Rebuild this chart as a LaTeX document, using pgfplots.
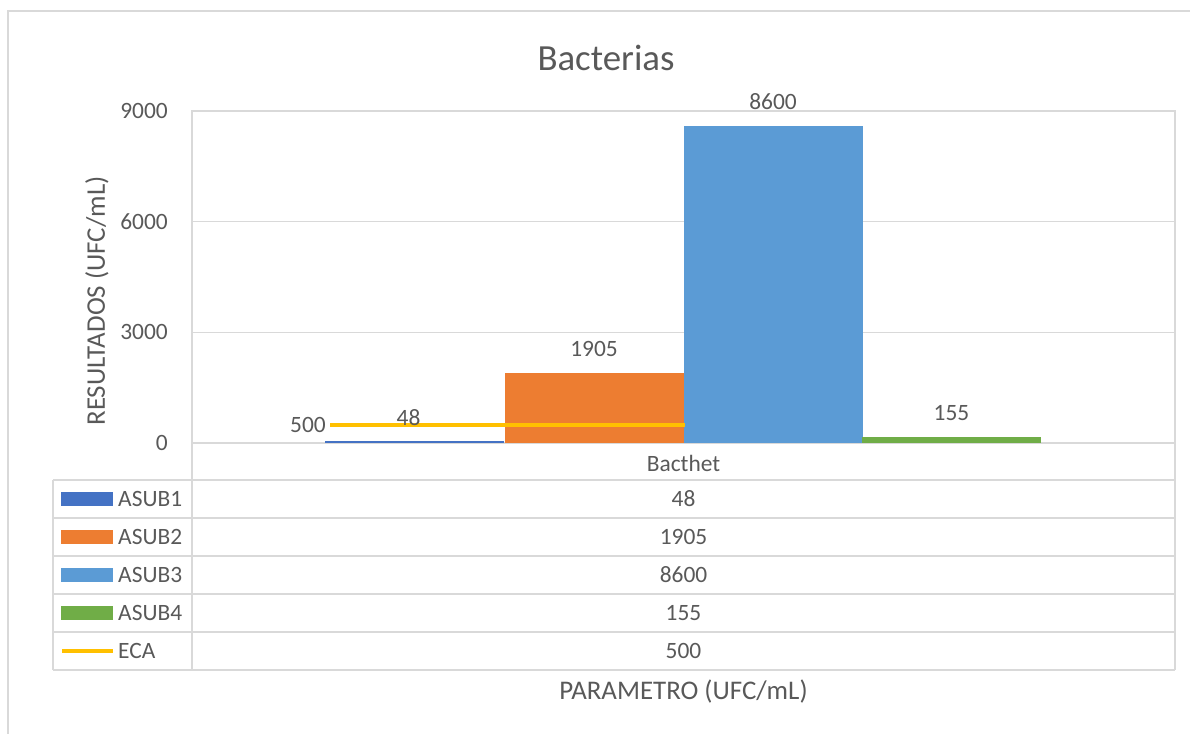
\documentclass[border=0pt]{standalone}
\usepackage{fontspec}
\setmainfont{Carlito}
\usepackage{pgfplots}
\pgfplotsset{compat=1.18}
\definecolor{cA}{HTML}{4472C4}
\definecolor{cB}{HTML}{ED7D31}
\definecolor{cC}{HTML}{5B9BD5}
\definecolor{cD}{HTML}{70AD47}
\definecolor{cECA}{HTML}{FFC000}
\definecolor{txt}{HTML}{595959}
\definecolor{gridg}{HTML}{D9D9D9}
\newcommand{\lab}{\fontsize{23.5}{28}\selectfont}
\newcommand{\axlab}{\fontsize{27}{32}\selectfont}

\begin{document}
\begin{tikzpicture}[x=1bp,y=1bp]
\useasboundingbox (0,0) rectangle (1190,734);
% outer chart border (only top and left visible)
\draw[gridg,line width=1.5bp] (8,0) -- (8,723) -- (1190,723);
\node[text=txt,font=\fontsize{37}{44}\selectfont] at (606,676) {Bacterias};

\begin{axis}[
  at={(192bp,291bp)},anchor=south west,
  scale only axis,width=983bp,height=332bp,
  xmin=192,xmax=1175,ymin=0,ymax=9000,
  ytick={0,3000,6000,9000},
  xtick={683.5},xticklabels={Bacthet},
  ymajorgrids,grid style={gridg,line width=1.3bp},
  axis line style={gridg,line width=1.3bp},
  major tick length=0pt,
  tick label style={text=txt,font=\lab},
  /pgf/number format/assume math mode=true,
  /pgf/number format/1000 sep={},
  yticklabel style={inner sep=0pt,xshift=-24bp},
  xticklabel style={anchor=center,inner sep=0pt,yshift=-20bp},
  clip=false]
\addplot[ybar,bar width=179bp,bar shift=0pt,fill=cA,draw=none,
  nodes near coords,nodes near coords style={anchor=center,xshift=-6bp,yshift=24bp,text=txt,font=\lab}]
  coordinates {(414.5,48)};
\addplot[ybar,bar width=179bp,bar shift=0pt,fill=cB,draw=none,
  nodes near coords,nodes near coords style={anchor=center,yshift=24bp,text=txt,font=\lab}]
  coordinates {(594,1905)};
\addplot[ybar,bar width=179bp,bar shift=0pt,fill=cC,draw=none,
  nodes near coords,nodes near coords style={anchor=center,yshift=24bp,text=txt,font=\lab}]
  coordinates {(773,8600)};
\addplot[ybar,bar width=179bp,bar shift=0pt,fill=cD,draw=none,
  nodes near coords,nodes near coords style={anchor=center,yshift=24bp,text=txt,font=\lab}]
  coordinates {(951.5,155)};
\addplot[sharp plot,no marks,cECA,line width=4bp] coordinates {(330,500) (685,500)};
\node[anchor=east,text=txt,font=\lab,inner sep=0pt] at (axis cs:326,500) {500};
\end{axis}

% data table
\begin{scope}[gridg,line width=1.3bp]
\draw (192,291) -- (192,64);
\draw (1175,291) -- (1175,64);
\foreach \yy in {254,216,178,140,102,64} \draw (53,\yy) -- (1175,\yy);
\draw (53,254) -- (53,64);
\end{scope}
\fill[cA] (61,228) rectangle (113,242);
\fill[cB] (61,190) rectangle (113,204);
\fill[cC] (61,152) rectangle (113,166);
\fill[cD] (61,114) rectangle (113,128);
\draw[cECA,line width=4bp] (62,83) -- (113,83);
\foreach \yy/\nm/\vv in {235/ASUB1/48,197/ASUB2/1905,159/ASUB3/8600,121/ASUB4/155,83/ECA/500}{
  \node[anchor=west,text=txt,font=\lab,inner sep=0pt] at (118,\yy) {\nm};
  \node[text=txt,font=\lab,inner sep=0pt] at (683.5,\yy) {\vv};
}
\node[text=txt,font=\axlab] at (683.5,42) {PARAMETRO (UFC/mL)};
\node[text=txt,font=\axlab,rotate=90] at (97,433) {RESULTADOS (UFC/mL)};
\end{tikzpicture}
\end{document}
